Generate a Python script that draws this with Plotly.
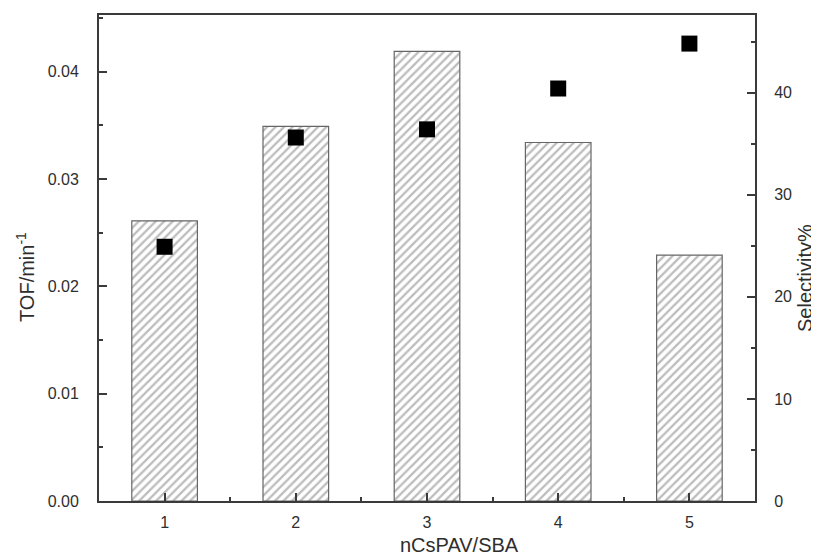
import plotly.graph_objects as go

categories = [1, 2, 3, 4, 5]
tof_values = [0.0261, 0.0349, 0.0419, 0.0334, 0.0229]
selectivity_values = [24.9, 35.6, 36.4, 40.4, 44.8]
left_ticks = [0.00, 0.01, 0.02, 0.03, 0.04]
left_tick_text = ["0.00", "0.01", "0.02", "0.03", "0.04"]
right_ticks = [0, 10, 20, 30, 40]

FONT = "Liberation Sans, Arial, sans-serif"
AX = "#3a3a3a"
TXT = "#2e2e2e"

OFF = 8  # page body margin
W, H = 819, 559
PL, PT, PW, PH = 99, 15, 656, 486  # plot box in screen pixels
L, T = PL - OFF, PT - OFF
R, B = W - L - PW, H - T - PH


def px(xs):
    return (xs - OFF - L) / PW


def py(ys):
    return (T + PH - (ys - OFF)) / PH


fig = go.Figure()
fig.add_trace(go.Bar(
    x=categories, y=tof_values, width=0.5, yaxis="y",
    marker=dict(color="white",
                line=dict(color="#666666", width=1.2),
                pattern=dict(shape="/", fgcolor="#7a7a7a", bgcolor="white",
                             size=6, solidity=0.38)),
    showlegend=False,
))
fig.add_trace(go.Scatter(
    x=categories, y=selectivity_values, yaxis="y2", mode="markers",
    marker=dict(symbol="square", size=16, color="black"),
    showlegend=False,
))

common = dict(ticks="inside", ticklen=8, tickwidth=1.6, tickcolor=AX,
              showline=True, linecolor=AX, linewidth=2,
              showgrid=False, zeroline=False, automargin=False,
              tickfont=dict(family=FONT, size=16, color=TXT))

fig.update_layout(
    width=W, height=H,
    margin=dict(l=L, r=R, t=T, b=B),
    paper_bgcolor="white", plot_bgcolor="white",
    font=dict(family=FONT, size=16, color=TXT),
    xaxis=dict(
        range=[0.5, 5.5], tickvals=categories, ticktext=[str(c) for c in categories],
        minor=dict(ticks="inside", ticklen=4, tickwidth=1.6, tickcolor=AX, dtick=0.5, tick0=0.5),
        mirror=True, ticklabelstandoff=6, **common,
    ),
    yaxis=dict(
        range=[0, 0.04528], tickvals=left_ticks, ticktext=left_tick_text,
        minor=dict(ticks="inside", ticklen=4, tickwidth=1.6, tickcolor=AX, dtick=0.005, tick0=0),
        ticklabelstandoff=15, **common,
    ),
    yaxis2=dict(
        range=[0, 47.6], tickvals=right_ticks, overlaying="y", side="right",
        minor=dict(ticks="inside", ticklen=4, tickwidth=1.6, tickcolor=AX, dtick=5, tick0=0),
        ticklabelstandoff=14, **common,
    ),
    annotations=[
        dict(text="nCsPAV/SBA", xref="paper", yref="paper",
             x=px(459), y=py(545),
             xanchor="center", yanchor="middle", showarrow=False,
             font=dict(family=FONT, size=20, color=TXT)),
        dict(text="TOF/min<sup>-1</sup>", xref="paper", yref="paper",
             x=px(25), y=py(277), textangle=-90,
             xanchor="center", yanchor="middle", showarrow=False,
             font=dict(family=FONT, size=20, color=TXT)),
        dict(text="Selectivity%", xref="paper", yref="paper",
             x=px(805), y=py(278), textangle=-90,
             xanchor="center", yanchor="middle", showarrow=False,
             font=dict(family=FONT, size=20, color=TXT)),
    ],
)

fig.write_html("out.html")
